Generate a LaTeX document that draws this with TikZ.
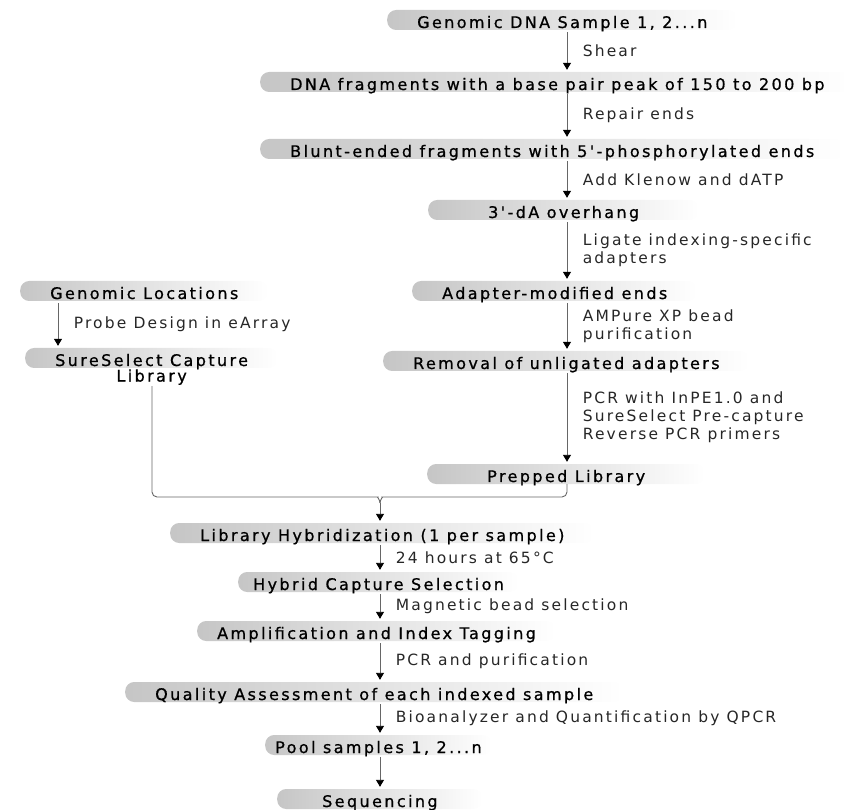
\documentclass[tikz,border=0pt]{standalone}
\usepackage{fontspec}
\usetikzlibrary{arrows.meta}
\newfontfamily\boxfont[LetterSpace=15,FakeBold=0.8]{DejaVu Sans}
\newfontfamily\notefont[LetterSpace=14]{DejaVu Sans}

\begin{document}
\begin{tikzpicture}[x=1pt,y=-1pt,
    stepbox/.style={font=\boxfont\fontsize{16}{18}\selectfont, anchor=base west,
      text height=18pt, text depth=2pt, inner ysep=0pt, inner xsep=30pt,
      left color=gray!45, right color=white, rounded corners=9pt},
    flow/.style={draw=black!60, line width=0.9pt, -{Triangle[length=7pt,width=8pt,color=black]},
      shorten <=2pt, shorten >=2pt},
    steplabel/.style={font=\notefont\fontsize{15.5}{18}\selectfont, anchor=west,
      align=left, xshift=12pt, text=black!85},
    bracket/.style={draw=black!60, line width=0.9pt, rounded corners=5pt}]
\useasboundingbox (0,0) rectangle (844,810);
% columns of arrows
\coordinate (rc) at (567,0);
\coordinate (lc) at (58,0);
\coordinate (bc) at (380,0);
\coordinate (lx) at (152,0);
\coordinate (jn) at (380,497);
% library preparation
\node[stepbox] (gdna) at (387,28) {Genomic DNA Sample 1, 2...n};
\node[stepbox] (frag) at (260,90) {DNA fragments with a base pair peak of 150 to 200 bp};
\node[stepbox] (blunt) at (260,157) {Blunt-ended fragments with 5'-phosphorylated ends};
\node[stepbox, inner xsep=60pt] (dahang) at (428,218) {3'-dA overhang};
\node[stepbox] (adapt) at (412,299) {Adapter-modified ends};
\node[stepbox] (unlig) at (383,369) {Removal of unligated adapters};
\node[stepbox, inner xsep=60pt] (prepped) at (427,482) {Prepped Library};
% capture library
\node[stepbox] (gloc) at (20,299) {Genomic Locations};
\node[stepbox, label={[name=sslib, font=\boxfont\fontsize{16}{18}\selectfont, inner sep=1pt]below:Library}] (sscap) at (25,366) {SureSelect Capture};
% hybridization and sequencing
\node[stepbox] (lhyb) at (170,541) {Library Hybridization (1 per sample)};
\node[stepbox, inner xsep=15pt] (hcap) at (238,590) {Hybrid Capture Selection};
\node[stepbox, inner xsep=20pt] (amp) at (197,639) {Amplification and Index Tagging};
\node[stepbox] (qual) at (125,700) {Quality Assessment of each indexed sample};
\node[stepbox, inner xsep=10pt] (pool) at (265,753) {Pool samples 1, 2...n};
\node[stepbox, inner xsep=45pt] (seq) at (277,807) {Sequencing};

\draw[flow] (gdna.south -| rc) -- (frag.north -| rc) node[steplabel, midway]{Shear};
\draw[flow] (frag.south -| rc) -- (blunt.north -| rc) node[steplabel, midway]{Repair ends};
\draw[flow] (blunt.south -| rc) -- (dahang.north -| rc) node[steplabel, midway]{Add Klenow and dATP};
\draw[flow] (dahang.south -| rc) -- (adapt.north -| rc) node[steplabel, midway]{Ligate indexing-specific\\adapters};
\draw[flow] (adapt.south -| rc) -- (unlig.north -| rc) node[steplabel, midway]{AMPure XP bead\\purification};
\draw[flow] (unlig.south -| rc) -- (prepped.north -| rc) node[steplabel, midway]{PCR with InPE1.0 and\\SureSelect Pre-capture\\Reverse PCR primers};
\draw[flow] (gloc.south -| lc) -- (sscap.north -| lc) node[steplabel, midway]{Probe Design in eArray};
% both libraries join
\draw[bracket] (sslib.south -| lx) |- ([xshift=-7pt]jn) to[out=0,in=90] ([yshift=-6pt]jn);
\draw[bracket] (prepped.south -| rc) |- ([xshift=7pt]jn) to[out=180,in=90] ([yshift=-6pt]jn);
\draw[flow, shorten <=0pt] ([yshift=-6pt]jn) -- (jn |- lhyb.north);
\draw[flow] (lhyb.south -| bc) -- (hcap.north -| bc) node[steplabel, midway]{24 hours at 65°C};
\draw[flow] (hcap.south -| bc) -- (amp.north -| bc) node[steplabel, midway]{Magnetic bead selection};
\draw[flow] (amp.south -| bc) -- (qual.north -| bc) node[steplabel, midway]{PCR and purification};
\draw[flow] (qual.south -| bc) -- (pool.north -| bc) node[steplabel, midway]{Bioanalyzer and Quantification by QPCR};
\draw[flow] (pool.south -| bc) -- (seq.north -| bc);
\end{tikzpicture}
\end{document}
